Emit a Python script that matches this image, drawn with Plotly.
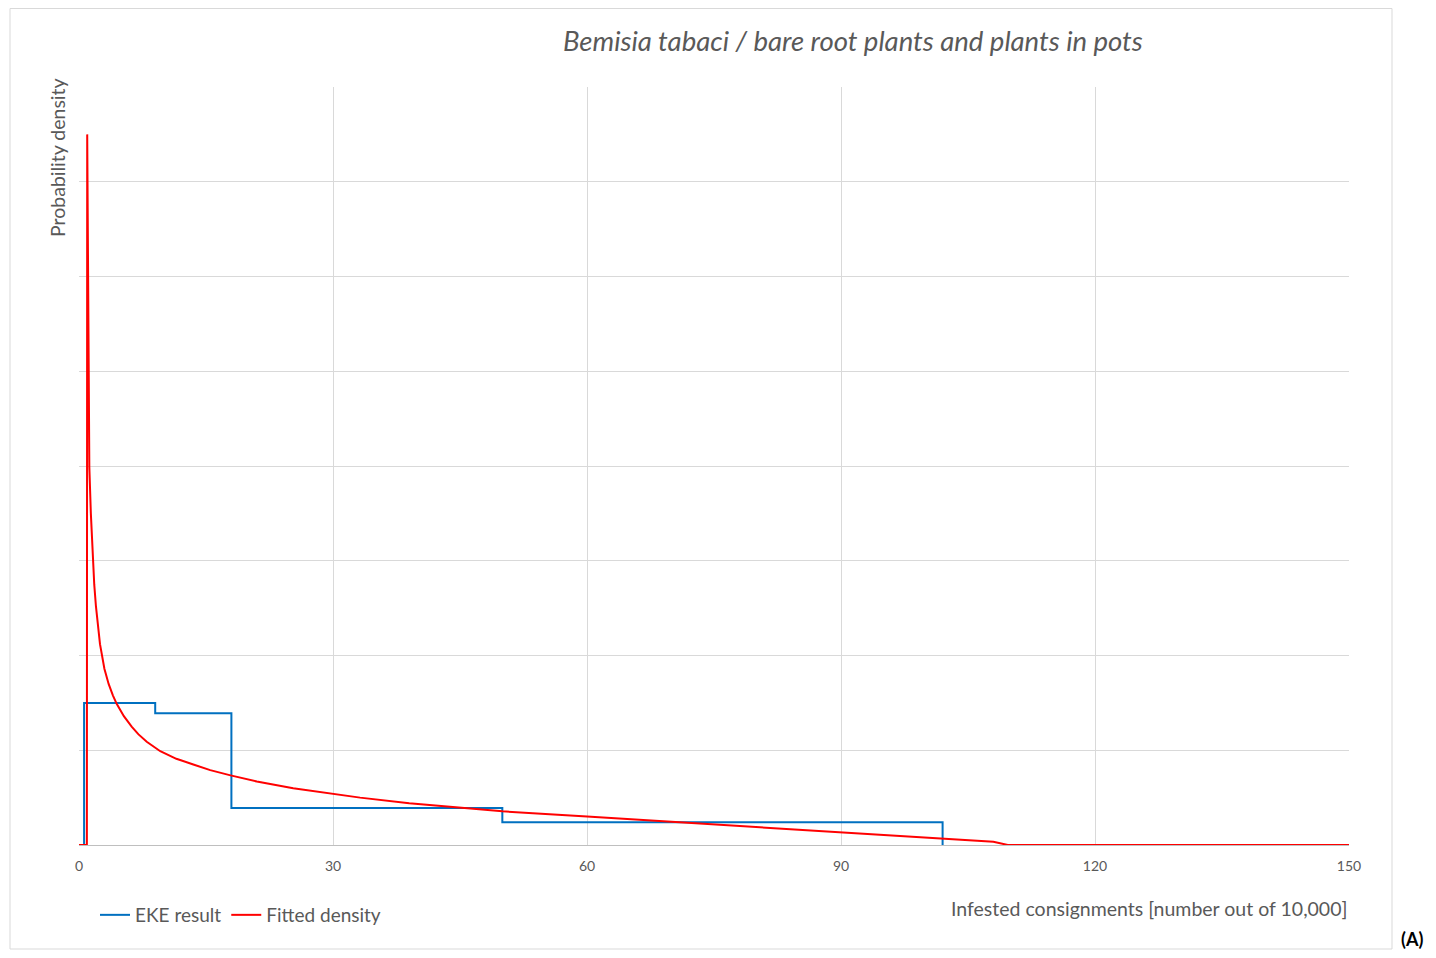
import plotly.graph_objects as go

# EKE result (step histogram outline)
eke_x = [0, 0.6, 0.6, 9, 9, 18, 18, 50, 50, 102, 102]
eke_y = [0, 0, 1.50, 1.50, 1.39, 1.39, 0.39, 0.39, 0.24, 0.24, 0]

# Fitted density
fit_x = [0, 0.93, 0.97, 1.03, 1.10, 1.22, 1.40, 1.61, 1.8, 2.0, 2.48, 3.0, 3.5, 4.0, 4.45,
         5.3, 6.22, 7.0, 8.0, 9.6, 11.5, 13.5, 15.5, 17.9, 21, 25.3, 29, 33.2, 39, 45, 50,
         60, 67.4, 73.3, 80, 89.9, 96, 102.1, 108, 109.7, 150]
fit_y = [0, 0, 7.5, 6.4, 5.12, 3.99, 3.5, 3.05, 2.75, 2.52, 2.12, 1.86, 1.70, 1.58, 1.49,
         1.36, 1.25, 1.17, 1.09, 0.99, 0.91, 0.85, 0.79, 0.735, 0.67, 0.60, 0.55, 0.50,
         0.44, 0.39, 0.355, 0.30, 0.26, 0.225, 0.19, 0.14, 0.105, 0.07, 0.035, 0, 0]

x_ticks = [0, 30, 60, 90, 120, 150]

title_text = "Bemisia tabaci / bare root plants and plants in pots"
x_title = "Infested consignments [number out of 10,000]"
y_title = "Probability density"

FONT = "Lato, Open Sans, sans-serif"
GREY = "#595959"

OFF = 8  # page body margin
W, H = 1436 - 2 * OFF, 958 - 2 * OFF
# plot area in reference pixels: x 79..1349, y 87..845
L, T = 79 - OFF, 87 - OFF
R = W - (1349 - OFF)
B = H - (845 - OFF)
pw, ph = W - L - R, H - T - B

def px_x(p):
    return (p - OFF - L) / pw

def px_y(p):
    return (H - B - (p - OFF)) / ph

fig = go.Figure()
fig.add_trace(go.Scatter(x=eke_x, y=eke_y, mode="lines", name="EKE result",
                         line=dict(color="#0070C0", width=2)))
fig.add_trace(go.Scatter(x=fit_x, y=fit_y, mode="lines", name="Fitted density",
                         line=dict(color="#FF0000", width=2)))

fig.update_layout(
    width=W, height=H,
    margin=dict(l=L, r=R, t=T, b=B),
    paper_bgcolor="white", plot_bgcolor="white",
    font=dict(family=FONT, color=GREY),
    showlegend=True,
    legend=dict(orientation="h", x=px_x(95), y=px_y(896), xanchor="left", yanchor="top",
                font=dict(size=19, color=GREY, family=FONT), itemwidth=30,
                bgcolor="rgba(0,0,0,0)"),
    xaxis=dict(range=[0, 150], tickvals=x_ticks, showgrid=True, gridcolor="#d9d9d9",
               gridwidth=1, zeroline=False, showline=True, linecolor="#bfbfbf",
               ticks="", ticklabelstandoff=8, tickfont=dict(size=14, color=GREY),
               fixedrange=True),
    yaxis=dict(range=[0, 8], dtick=1, showgrid=True, gridcolor="#d9d9d9", gridwidth=1,
               zeroline=False, showline=False, showticklabels=False, ticks="",
               fixedrange=True),
)

# outer chart border
fig.add_shape(type="rect", xref="paper", yref="paper",
              x0=px_x(10), x1=px_x(1392), y0=px_y(949), y1=px_y(8.5),
              line=dict(color="#d9d9d9", width=1), fillcolor="rgba(0,0,0,0)", layer="below")

fig.add_annotation(text="<i>" + title_text + "</i>", xref="paper", yref="paper",
                   x=px_x(853), y=px_y(41), xanchor="center", yanchor="middle",
                   showarrow=False, font=dict(size=27.5, color=GREY, family=FONT))
fig.add_annotation(text=y_title, xref="paper", yref="paper",
                   x=px_x(57), y=px_y(158), xanchor="center", yanchor="middle",
                   textangle=-90, showarrow=False, font=dict(size=19.5, color=GREY, family=FONT))
fig.add_annotation(text=x_title, xref="paper", yref="paper",
                   x=1, y=px_y(908), xanchor="right", yanchor="middle",
                   showarrow=False, font=dict(size=19.5, color=GREY, family=FONT))
fig.add_annotation(text="<b>(A)</b>", xref="paper", yref="paper",
                   x=px_x(1425), y=px_y(939), xanchor="right", yanchor="middle",
                   showarrow=False, font=dict(size=18, color="black", family=FONT))

fig.write_html("out.html")
